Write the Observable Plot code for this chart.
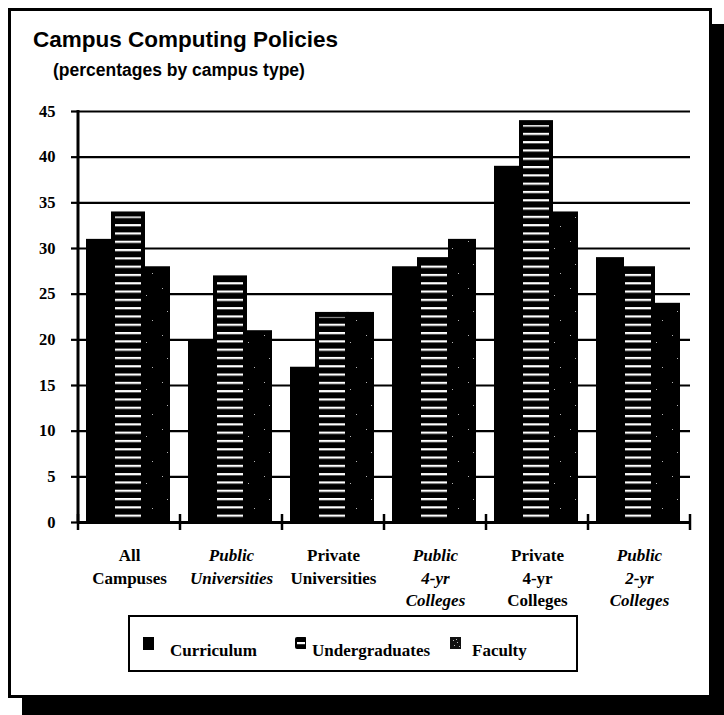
<!DOCTYPE html>
<html>
<head>
<meta charset="utf-8">
<script src="https://cdn.jsdelivr.net/npm/d3@7"></script>
<script src="https://cdn.jsdelivr.net/npm/@observablehq/plot@0.6"></script>
<style>
  html, body { margin: 0; padding: 0; background: #fff; }
  body { position: relative; width: 724px; height: 715px; overflow: hidden; }
  #frame { position: absolute; left: 8px; top: 8px; width: 704px; height: 690px; box-sizing: border-box; border: 3px solid #000; background: #fff; }
  #shadowR { position: absolute; left: 712px; top: 24px; width: 12px; height: 691px; background: #000; }
  #shadowB { position: absolute; left: 22px; top: 698px; width: 702px; height: 17px; background: #000; }
  #title { position: absolute; left: 33px; top: 29px; font: bold 22.5px/22.5px "Liberation Sans", Arial, sans-serif; color: #000; white-space: nowrap; }
  #subtitle { position: absolute; left: 53px; top: 62px; font: bold 17.5px/17.5px "Liberation Sans", Arial, sans-serif; color: #000; white-space: nowrap; }
  #chart { position: absolute; left: 0; top: 0; }
  #legend { position: absolute; left: 128px; top: 615px; width: 450px; height: 57px; box-sizing: border-box; border: 2px solid #000; background: #fff; }
  #legend .sw { position: absolute; top: 20px; width: 11px; height: 13px; }
  #legend .lab { position: absolute; top: 25px; font: bold 17px/17px "Liberation Serif", "Times New Roman", serif; white-space: nowrap; }
</style>
</head>
<body>
<div id="frame"></div>
<div id="shadowR"></div>
<div id="shadowB"></div>
<div id="title"></div>
<div id="subtitle"></div>
<div id="chart"></div>
<div id="legend"></div>
<script>
// ---- data ----
const titleText = "Campus Computing Policies";
const subtitleText = "(percentages by campus type)";
const categories = ["All Campuses", "Public Universities", "Private Universities", "Public 4-yr Colleges", "Private 4-yr Colleges", "Public 2-yr Colleges"];
const categoryLabels = ["All\nCampuses", "Public\nUniversities", "Private\nUniversities", "Public\n4-yr\nColleges", "Private\n4-yr\nColleges", "Public\n2-yr\nColleges"];
const categoryItalic = [false, true, false, true, false, true];
const series = ["Curriculum", "Undergraduates", "Faculty"];
const curriculum = [31, 20, 17, 28, 39, 29];
const undergraduates = [34, 27, 23, 29, 44, 28];
const faculty = [28, 21, 23, 31, 34, 24];
const yTicks = [0, 5, 10, 15, 20, 25, 30, 35, 40, 45];

document.getElementById("title").textContent = titleText;
document.getElementById("subtitle").textContent = subtitleText;

const values = [curriculum, undergraduates, faculty];
const data = categories.flatMap((c, i) => series.map((s, j) => ({category: c, series: s, value: values[j][i]})));
const labelData = categories.map((c, i) => ({category: c, label: categoryLabels[i], italic: categoryItalic[i]}));

const W = 724, H = 620;
const plot = Plot.plot({
  width: W,
  height: H,
  marginTop: 111,
  marginBottom: 98,
  marginLeft: 75,
  marginRight: 32,
  style: {fontFamily: "'Liberation Serif', 'Times New Roman', serif", fontWeight: "bold", fontSize: "16px", color: "#000", background: "transparent", overflow: "visible"},
  fx: {domain: categories, padding: 0, axis: null},
  x: {domain: series, paddingInner: 0, paddingOuter: 0.32, align: 0.45, axis: null},
  y: {domain: [0, 45]},
  marks: [
    Plot.gridY(yTicks, {stroke: "#000", strokeOpacity: 1, strokeWidth: 2.2}),
    Plot.barY(data.filter(d => d.series === "Curriculum"), {fx: "category", x: "series", y: "value", fill: "#000"}),
    Plot.barY(data.filter(d => d.series === "Faculty"), {fx: "category", x: "series", y: "value", fill: "url(#facultySpeckle)"}),
    Plot.barY(data.filter(d => d.series === "Undergraduates"), {fx: "category", x: "series", y: "value", fill: "#000", insetLeft: -3, insetRight: -3}),
    Plot.barY(data.filter(d => d.series === "Undergraduates"), {fx: "category", x: "series", y: "value", fill: "url(#ugStripes)", insetLeft: 1, insetRight: 1, insetTop: 5}),
    Plot.ruleY([0], {stroke: "#000", strokeWidth: 3}),
    Plot.axisY(yTicks, {anchor: "left", tickSize: 7, tickPadding: 16, strokeWidth: 2.2, fontSize: 16.5, fontWeight: "bold", label: null}),
    Plot.text(labelData.filter(d => !d.italic), {fx: "category", text: "label", frameAnchor: "bottom", lineAnchor: "top", dy: 23, lineHeight: 1.32, fontSize: 17, fontWeight: "bold"}),
    Plot.text(labelData.filter(d => d.italic), {fx: "category", text: "label", frameAnchor: "bottom", lineAnchor: "top", dy: 23, lineHeight: 1.32, fontSize: 17, fontWeight: "bold", fontStyle: "italic"})
  ]
});

// patterns
const svg = d3.select(plot);
const defs = svg.insert("defs", ":first-child");
const stripes = defs.append("pattern").attr("id", "ugStripes").attr("patternUnits", "userSpaceOnUse")
  .attr("width", 40).attr("height", 8.3);
stripes.append("rect").attr("x", 0).attr("y", 0).attr("width", 40).attr("height", 2.2).attr("fill", "#fff");
const speck = defs.append("pattern").attr("id", "facultySpeckle").attr("patternUnits", "userSpaceOnUse")
  .attr("width", 31).attr("height", 47);
speck.append("rect").attr("width", 31).attr("height", 47).attr("fill", "#000");
[[4, 6], [19, 13], [9, 29], [25, 38], [14, 44]].forEach(([px, py]) =>
  speck.append("rect").attr("x", px).attr("y", py).attr("width", 1).attr("height", 1).attr("fill", "#fff").attr("opacity", 0.7));

// y axis line and group boundary ticks, from Plot's own scales
const fx = plot.scale("fx"), y = plot.scale("y");
const g = svg.append("g").attr("stroke", "#000");
const x0 = fx.apply(categories[0]);
g.append("line").attr("x1", x0).attr("x2", x0).attr("y1", y.apply(45) - 1).attr("y2", y.apply(0) + 1).attr("stroke-width", 3);
const bounds = categories.map(c => fx.apply(c)).concat([fx.apply(categories[categories.length - 1]) + fx.step]);
bounds.forEach(bx => g.append("line").attr("x1", bx).attr("x2", bx).attr("y1", y.apply(0) - 8).attr("y2", y.apply(0) + 8).attr("stroke-width", 2.5));

document.getElementById("chart").appendChild(plot);

// legend
const legend = d3.select("#legend");
const swX = [13, 165, 320], labX = [40, 182, 342];
series.forEach((s, i) => {
  const sw = legend.append("svg").attr("class", "sw").style("left", swX[i] + "px").attr("width", 12).attr("height", 13);
  if (i === 0) {
    sw.append("rect").attr("width", 11).attr("height", 13).attr("fill", "#000");
  } else if (i === 1) {
    sw.append("rect").attr("width", 12).attr("height", 12).attr("rx", 2).attr("fill", "#000");
    sw.append("rect").attr("x", 2).attr("y", 5).attr("width", 8).attr("height", 2.2).attr("fill", "#fff");
  } else {
    sw.append("rect").attr("width", 12).attr("height", 12).attr("fill", "#111");
    [[3, 3], [7, 5], [4, 8], [9, 9], [6, 2]].forEach(([px, py]) =>
      sw.append("rect").attr("x", px).attr("y", py).attr("width", 1).attr("height", 1).attr("fill", "#bbb"));
  }
  legend.append("div").attr("class", "lab").style("left", labX[i] + "px").text(s);
});
</script>
</body>
</html>
